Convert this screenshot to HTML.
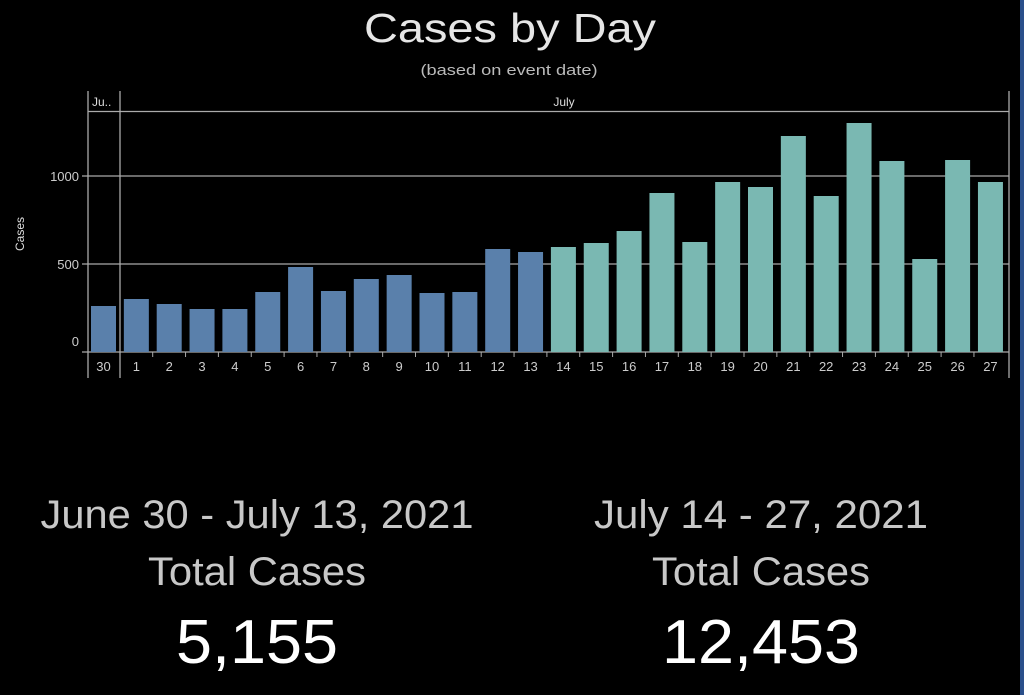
<!DOCTYPE html>
<html><head><meta charset="utf-8"><style>
html,body{margin:0;padding:0;background:#000;}
svg{display:block;font-family:"Liberation Sans",sans-serif;}
</style></head><body>
<svg width="1024" height="695" viewBox="0 0 1024 695" xmlns="http://www.w3.org/2000/svg">
<rect width="1024" height="695" fill="#000"/>
<rect x="1020" y="0" width="4" height="695" fill="#2a4f8a"/>
<text x="510" y="42" text-anchor="middle" font-size="41" fill="#e6e6e6" textLength="292" lengthAdjust="spacingAndGlyphs">Cases by Day</text>
<text x="509" y="75" text-anchor="middle" font-size="15" fill="#bbb" textLength="177" lengthAdjust="spacingAndGlyphs">(based on event date)</text>
<g stroke="#aaa" stroke-width="1.3" fill="none">
<line x1="88" y1="91" x2="88" y2="378"/>
<line x1="120" y1="91" x2="120" y2="378"/>
<line x1="1009" y1="91" x2="1009" y2="378"/>
<line x1="88" y1="111.5" x2="1009" y2="111.5"/>
<line x1="82" y1="176" x2="1009" y2="176"/>
<line x1="82" y1="264" x2="1009" y2="264"/>
<line x1="82" y1="352" x2="1009" y2="352"/>
</g>
<text x="92" y="106" font-size="12" fill="#ddd">Ju..</text>
<text x="564" y="106" text-anchor="middle" font-size="12" fill="#ddd">July</text>
<g font-size="13" fill="#ccc" text-anchor="end">
<text x="79" y="181">1000</text>
<text x="79" y="269">500</text>
<text x="79" y="346">0</text>
</g>
<text transform="translate(24,234) rotate(-90)" text-anchor="middle" font-size="12" fill="#ddd">Cases</text>
<g id="bars"></g>
<g id="labels" font-size="13" fill="#ccc" text-anchor="middle"></g>
<g id="ticks" stroke="#aaa" stroke-width="1"></g>
<g font-size="40" fill="#c8c8c8" text-anchor="middle">
<text x="257" y="528" textLength="433" lengthAdjust="spacingAndGlyphs">June 30 - July 13, 2021</text>
<text x="257" y="585" textLength="218" lengthAdjust="spacingAndGlyphs">Total Cases</text>
<text x="761" y="528" textLength="334" lengthAdjust="spacingAndGlyphs">July 14 - 27, 2021</text>
<text x="761" y="585" textLength="218" lengthAdjust="spacingAndGlyphs">Total Cases</text>
</g>
<g font-size="62" fill="#fff" text-anchor="middle">
<text x="257" y="663" textLength="162" lengthAdjust="spacingAndGlyphs">5,155</text>
<text x="761" y="663" textLength="198" lengthAdjust="spacingAndGlyphs">12,453</text>
</g>
<script>
(function(){
var tops=[306,299,304,309,309,292,267,291,279,275,293,292,249,252,247,243,231,193,242,182,187,136,196,123,161,259,160,182];
var labs=["30"];for(var d=1;d<=27;d++)labs.push(String(d));
var ns="http://www.w3.org/2000/svg";
var b=document.getElementById("bars"),l=document.getElementById("labels"),t=document.getElementById("ticks");
for(var i=0;i<28;i++){
 var x=91+i*32.85;
 var r=document.createElementNS(ns,"rect");
 r.setAttribute("x",x);r.setAttribute("y",tops[i]);r.setAttribute("width",25);r.setAttribute("height",352-tops[i]);
 r.setAttribute("fill",i<14?"#5a80ab":"#7ab8b2");b.appendChild(r);
 var tx=document.createElementNS(ns,"text");tx.setAttribute("x",x+12.5);tx.setAttribute("y",371);tx.textContent=labs[i];l.appendChild(tx);
 if(i>1){var ln=document.createElementNS(ns,"line");var lx=x-4;ln.setAttribute("x1",lx);ln.setAttribute("x2",lx);ln.setAttribute("y1",352);ln.setAttribute("y2",357);t.appendChild(ln);}
}
})();
</script>
</svg>
</body></html>
